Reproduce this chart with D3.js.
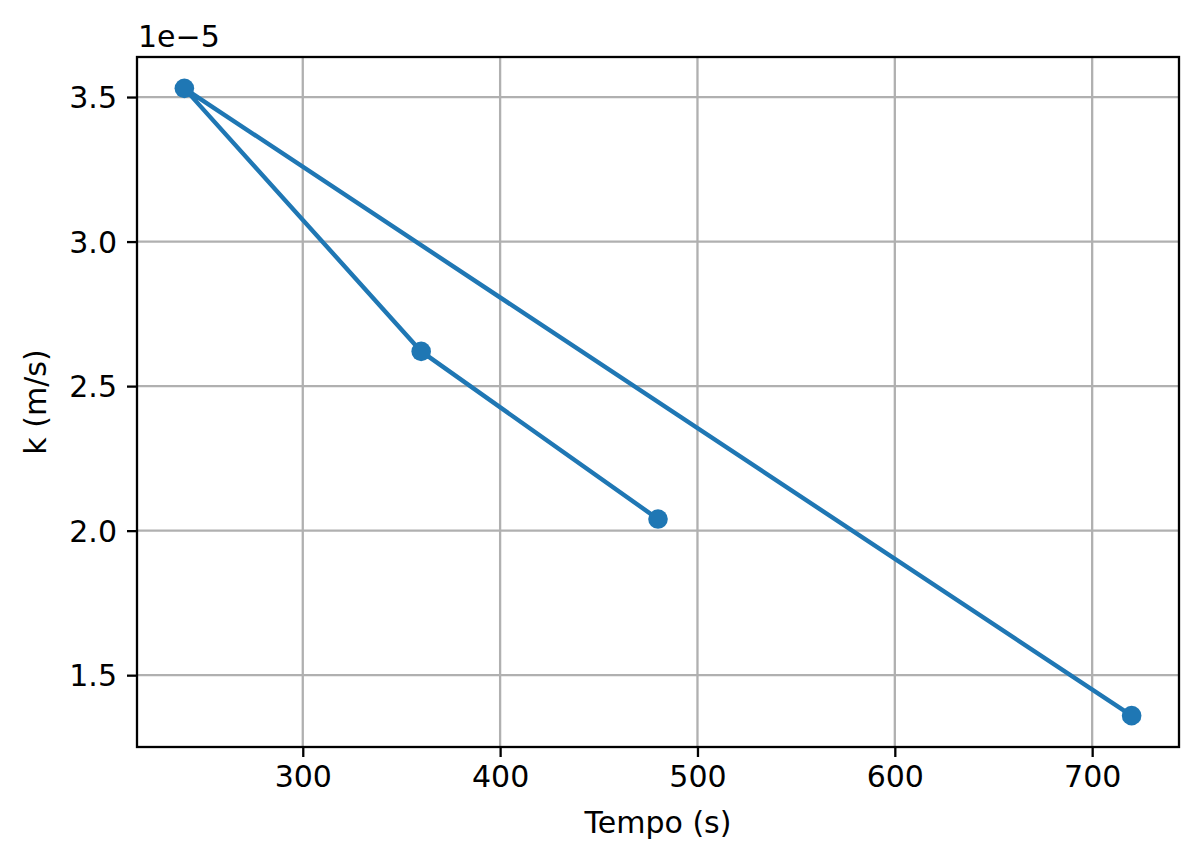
<!DOCTYPE html>
<html>
<head>
<meta charset="utf-8">
<script src="https://cdn.jsdelivr.net/npm/d3@7"></script>
<style>
  html, body { margin: 0; padding: 0; background: #fff; }
  text { font-family: "DejaVu Sans", sans-serif; fill: #000; }
</style>
</head>
<body>
<div id="chart"></div>
<script>
// data, in the order it was plotted
const tempo = [720, 240, 360, 480]
const kValues = [1.36, 3.53, 2.62, 2.04] // x 1e-5 m/s
const xTicks = [300, 400, 500, 600, 700]
const yTicks = [1.5, 2.0, 2.5, 3.0, 3.5]

const width = 1200
const height = 864
const margin = { top: 57, right: 21, bottom: 117, left: 137 }
const fontSize = 30

const svg = d3.select('#chart')
  .append('svg')
  .attr('width', width)
  .attr('height', height)

// matplotlib style 5% padding round the data
function padded (vals) {
  const [lo, hi] = d3.extent(vals)
  const p = (hi - lo) * 0.05
  return [lo - p, hi + p]
}

const x = d3.scaleLinear()
  .domain(padded(tempo))
  .range([margin.left, width - margin.right])
const y = d3.scaleLinear()
  .domain(padded(kValues))
  .range([height - margin.bottom, margin.top])

// grid
const grid = svg.append('g')
grid.selectAll('line.gx')
  .data(xTicks)
  .enter()
  .append('line')
  .attr('x1', d => x(d)).attr('x2', d => x(d))
  .attr('y1', margin.top).attr('y2', height - margin.bottom)
  .style('stroke', '#b0b0b0')
  .style('stroke-width', 2.3)
grid.selectAll('line.gy')
  .data(yTicks)
  .enter()
  .append('line')
  .attr('y1', d => y(d)).attr('y2', d => y(d))
  .attr('x1', margin.left).attr('x2', width - margin.right)
  .style('stroke', '#b0b0b0')
  .style('stroke-width', 2.3)

// axes
const xAxis = svg.append('g')
  .attr('transform', `translate(0,${height - margin.bottom})`)
  .call(d3.axisBottom(x).tickValues(xTicks).tickSize(10).tickPadding(9).tickFormat(d3.format('d')))
const yAxis = svg.append('g')
  .attr('transform', `translate(${margin.left},0)`)
  .call(d3.axisLeft(y).tickValues(yTicks).tickSize(10).tickPadding(10).tickFormat(d3.format('.1f')))

;[xAxis, yAxis].forEach(a => {
  a.select('.domain').remove()
  a.selectAll('line').style('stroke', '#000').style('stroke-width', 2.3)
  a.selectAll('text')
    .style('font-family', '"DejaVu Sans", sans-serif')
    .style('font-size', fontSize + 'px')
    .style('fill', '#000')
})
yAxis.selectAll('text').attr('dy', '0.35em')

// frame
svg.append('rect')
  .attr('x', margin.left)
  .attr('y', margin.top)
  .attr('width', width - margin.left - margin.right)
  .attr('height', height - margin.top - margin.bottom)
  .style('fill', 'none')
  .style('stroke', '#000')
  .style('stroke-width', 2.3)

// series
const pts = tempo.map((t, i) => [t, kValues[i]])
const line = d3.line()
  .x(d => x(d[0]))
  .y(d => y(d[1]))
svg.append('path')
  .datum(pts)
  .attr('d', line)
  .style('fill', 'none')
  .style('stroke', '#1f77b4')
  .style('stroke-width', 4.4)
  .style('stroke-linejoin', 'round')
  .style('stroke-linecap', 'square')
svg.append('g')
  .selectAll('circle')
  .data(pts)
  .enter()
  .append('circle')
  .attr('cx', d => x(d[0]))
  .attr('cy', d => y(d[1]))
  .attr('r', 9.8)
  .style('fill', '#1f77b4')

// labels
svg.append('text')
  .attr('x', (margin.left + width - margin.right) / 2)
  .attr('y', 833)
  .attr('text-anchor', 'middle')
  .style('font-size', fontSize + 'px')
  .text('Tempo (s)')
svg.append('text')
  .attr('transform', `translate(46,${(margin.top + height - margin.bottom) / 2}) rotate(-90)`)
  .attr('text-anchor', 'middle')
  .style('font-size', fontSize + 'px')
  .text('k (m/s)')
svg.append('text')
  .attr('x', margin.left + 1)
  .attr('y', 46.5)
  .style('font-size', fontSize + 'px')
  .text('1e\u22125')
</script>
</body>
</html>
